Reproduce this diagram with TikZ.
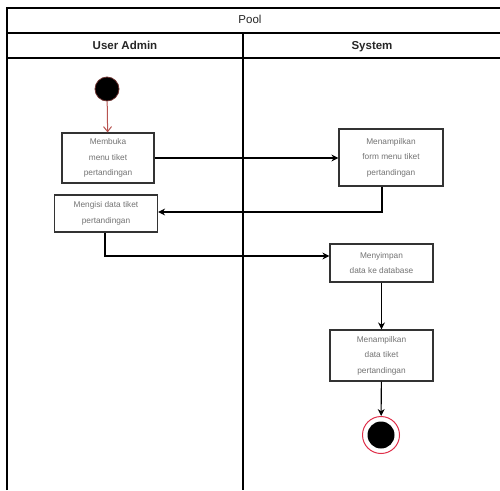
\documentclass[tikz,border=0pt]{standalone}
\usepackage{fontspec}
\setmainfont{Liberation Sans}
\usetikzlibrary{arrows.meta}
\definecolor{startred}{HTML}{B85450}
\definecolor{endred}{HTML}{E0304A}
\begin{document}
\begin{tikzpicture}[x=1pt,y=-1pt,
  frame/.style={draw=black,line width=1.6pt},
  act/.style={draw=black!80,line width=1.2pt,fill=white,inner sep=0pt,
    align=center,text=black!55,font=\fontsize{8.3}{15.5}\selectfont},
  flow/.style={draw=black,line width=1.1pt,-{Stealth[length=7pt,width=7pt]}},
  headtext/.style={text height=9pt,text depth=2.5pt,text=black!85},
  lanehead/.style={headtext,font=\fontsize{11.5}{13}\selectfont\bfseries},
]
\useasboundingbox (0,0) rectangle (500,490);
\fill[white] (0,0) rectangle (500,490);

% pool frame and lanes
\draw[frame] (7,490) -- (7,8) -- (500,8);
\draw[frame] (7,33) -- (500,33);
\draw[frame] (7,58) -- (500,58);
\draw[frame] (243,33) -- (243,490);
\node[headtext,font=\fontsize{11.5}{13}\selectfont] (pool) at (250,20.5) {Pool};
\node[lanehead] (laneA) at (125,46) {User Admin};
\node[lanehead] (laneS) at (372,46) {System};

% start and end states
\node[circle,fill=black,draw=startred!60!black,line width=0.8pt,minimum size=24pt,inner sep=0pt] (start) at (107,89) {};
\node[circle,draw=endred,line width=1pt,fill=white,minimum size=37pt,inner sep=0pt] (stop) at (381,435) {};
\node[circle,fill=black,minimum size=27pt,inner sep=0pt] (stopin) at (381,435) {};

% activities
\node[act,minimum width=92pt,minimum height=50pt] (a1) at (108,158) {Membuka\\menu tiket\\pertandingan};
\node[act,minimum width=104pt,minimum height=57pt] (a2) at (391,157.5) {Menampilkan\\form menu tiket\\pertandingan};
\node[act,minimum width=103pt,minimum height=37pt] (a3) at (106,213.5) {Mengisi data tiket\\pertandingan};
\node[act,minimum width=103pt,minimum height=38pt] (a4) at (381.5,263) {Menyimpan\\data ke database};
\node[act,minimum width=103pt,minimum height=51pt] (a5) at (381.5,355.5) {Menampilkan\\data tiket\\pertandingan};

\coordinate (k1) at (382,212);
\coordinate (k2) at (105,256);

% transitions
\draw[draw=startred,line width=1pt,-{Straight Barb[length=5pt,width=8pt]}] (start) -- (a1);
\draw[flow] (a1) -- (a1 -| a2.west);
\draw[flow] (a2.south -| k1) |- (a3.east |- k1);
\draw[flow] (a3.south -| k2) |- (a4.west |- k2);
\draw[flow] (a4) -- (a5);
\draw[flow] (a5) -- (stop);
\end{tikzpicture}
\end{document}
